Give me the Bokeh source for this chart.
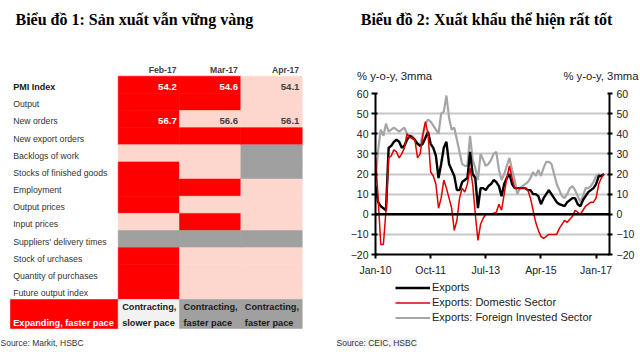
from bokeh.plotting import figure
from bokeh.models import (Range1d, FixedTicker, LinearAxis, Span, Label, Legend, LegendItem)
from bokeh.layouts import row, column
from bokeh.embed import file_html
from bokeh.resources import INLINE
from bokeh.core.properties import value

# ---------------- Chart 1 data: PMI heat table ----------------
title1 = "Biểu đồ 1: Sản xuất vẫn vững vàng"
source1 = "Source: Markit, HSBC"
pmi_rows = ["PMI Index", "Output", "New orders", "New export orders", "Backlogs of work",
            "Stocks of finished goods", "Employment", "Output prices", "Input prices",
            "Suppliers' delivery times", "Stock of urchases", "Quantity of purchases",
            "Future output index"]
pmi_months = ["Feb-17", "Mar-17", "Apr-17"]
# E = expanding faster (red), S = expanding slower (light), C = contracting faster (grey)
status_feb = ["E", "E", "E", "E", "S", "E", "E", "E", "S", "C", "E", "E", "E"]
status_mar = ["E", "E", "S", "E", "S", "S", "E", "S", "E", "C", "S", "S", "S"]
status_apr = ["S", "S", "S", "E", "C", "C", "S", "S", "S", "C", "S", "S", "S"]
pmi_index_values = [54.2, 54.6, 54.1]
new_orders_values = [56.7, 56.6, 56.1]
key_line1 = ["", "Contracting,", "Contracting,", "Contracting,"]
key_line2 = ["Expanding, faster pace", "slower pace", "faster pace", "faster pace"]
key_status = ["E", "W", "C", "C"]

# ---------------- Chart 2 data: exports, % y-o-y 3mma, monthly from Jan-10 ----------------
title2 = "Biểu đồ 2: Xuất khẩu thể hiện rất tốt"
source2 = "Source: CEIC, HSBC"
unit_label = "% y-o-y, 3mma"
x_tick_labels = ["Jan-10", "Oct-11", "Jul-13", "Apr-15", "Jan-17"]
y_ticks = [-20, -10, 0, 10, 20, 30, 40, 50, 60]
exports = [14, 6, 4, 3, 2, 33, 34, 36, 37, 36,
           33, 34, 37, 39, 38, 37, 35, 34, 35, 38,
           41, 35, 33, 29, 18, 25, 33, 36, 25, 22,
           19, 12, 12, 16, 17, 18, 31, 20, 18, 3,
           13, 13, 12, 14, 15, 17, 16, 14, 9, 15,
           18, 20, 15, 13, 13, 13, 13, 13, 12, 12,
           10, 10, 9, 5, 8, 10, 12, 10, 8, 6,
           5, 4.5, 4, 6, 7, 8, 8, 5, 4, 7,
           9, 11, 12, 13, 15, 19, 19, 20]
exports_domestic = [28, 8, -15, -15, 2, 28, 29, 32, 31, 28,
                    30, 33, 40, 38, 38, 37, 28, 30, 39, 46,
                    40, 21, 19, 15, 3, 8, 17, 13, 8, 3,
                    -8, -3, 8, 13, 11, 15, 23, 15, 0, -13,
                    -5, -2, 0, 0, 0, 0.5, 1, 5, 2, 10,
                    18, 24, 18, 13, 13, 13, 13, 13, 12, 8,
                    2, -4, -8, -11, -12, -11, -10, -10, -10, -10,
                    -7, -5, -3, -4, -2.5, -1, 2, 1, 0, 2,
                    4, 5, 6, 6, 8, 15, 18, 20]
exports_fie = [16, 32, 42, 39, 45, 41, 42, 43, 42, 41,
               42, 43, 40, 39, 39, 37, 35, 34, 40, 45,
               47, 46, 44, 42, 40, 50, 51, 59, 48, 42,
               43, 37, 31, 25, 24, 24, 39, 27, 23, 17,
               30, 27, 24, 25, 27, 30, 31, 22, 17, 20,
               24, 28, 22, 17, 10, 13, 14, 15, 16, 18,
               21, 19, 22, 19, 23, 26, 26, 25, 20, 15,
               12, 9, 8, 10, 13, 14, 12, 9, 6, 9,
               13, 13, 14, 16, 19, 20, 19, 20]
series_names = ["Exports", "Exports: Domestic Sector", "Exports: Foreign Invested Sector"]

# ---------------- styles ----------------
RED = "#ff0000"
PINK = "#fdd7cd"
GREY = "#a0a0a0"
WHITEISH = "#f2f2f2"
cell_colors = {"E": RED, "S": PINK, "C": GREY, "W": WHITEISH}
SANS = value("Liberation Sans")
SERIF = "Liberation Serif"
LABEL_X = -1.712     # left edge of row-label text (in column units)
KEY_LEFT = -1.756    # left edge of the red key cell
KEY_TOP, KEY_BOTTOM = 13.02, 14.71
line_styles = [dict(line_color="black", line_width=2.4),
               dict(line_color="#e00000", line_width=1.5),
               dict(line_color="#a6a6a6", line_width=2.2)]


def text_strip(w, h):
    f = figure(width=w, height=h, x_range=Range1d(0, 1), y_range=Range1d(0, 1),
               output_backend="svg", toolbar_location=None, min_border=0,
               x_axis_location=None, y_axis_location=None)
    f.outline_line_color = None
    f.grid.visible = False
    f.background_fill_color = "white"
    f.border_fill_color = "white"
    f.frame_align = False
    return f


# ================= Left figure: table =================
p1 = figure(width=313, height=360, x_range=Range1d(-1.919, 3.184), y_range=Range1d(16.577, -4.414),
            output_backend="svg", toolbar_location=None, min_border=0,
            x_axis_location=None, y_axis_location=None)
p1.outline_line_color = None
p1.grid.visible = False
p1.background_fill_color = "white"
p1.border_fill_color = "white"
p1.frame_align = False

statuses = [status_feb, status_mar, status_apr]
ql, qr, qt, qb, qc = [], [], [], [], []
for j, col in enumerate(statuses):
    for r, s in enumerate(col):
        ql.append(j); qr.append(j + 1); qt.append(r); qb.append(r + 1); qc.append(cell_colors[s])
p1.quad(left=ql, right=qr, top=qt, bottom=qb, fill_color=qc, line_color=qc, line_width=0.6)

# key row
kl = [KEY_LEFT, 0, 1, 2]
kr = [0, 1, 2, 3]
kc = [cell_colors[s] for s in key_status]
p1.quad(left=kl, right=kr, top=[KEY_TOP] * 4, bottom=[KEY_BOTTOM] * 4, fill_color=kc, line_color=kc, line_width=0.6)
ktx = [LABEL_X] + [j + 0.065 for j in range(3)]
ktc = ["white" if s == "E" else "#1a1a1a" for s in key_status]
p1.text(x=ktx, y=[KEY_TOP + 0.45] * 4, text=key_line1, text_color=ktc, text_font=SANS,
        text_font_style="bold", text_font_size="9.2px", text_baseline="middle", text_align="left")
p1.text(x=ktx, y=[KEY_TOP + 1.38] * 4, text=key_line2, text_color=ktc, text_font=SANS,
        text_font_style="bold", text_font_size="9.2px", text_baseline="middle", text_align="left")

# row labels
p1.text(x=[LABEL_X], y=[0.64], text=pmi_rows[:1], text_color="#1a1a1a", text_font=SANS,
        text_font_style="bold", text_font_size="9px", text_baseline="middle", text_align="left")
p1.text(x=[LABEL_X] * (len(pmi_rows) - 1), y=[r + 0.64 for r in range(1, len(pmi_rows))],
        text=pmi_rows[1:], text_color="#333333", text_font=SANS,
        text_font_size="8.7px", text_baseline="middle", text_align="left")

# column headers
p1.text(x=[j + 0.95 for j in range(3)], y=[-0.39] * 3, text=pmi_months, text_color="#404040",
        text_font=SANS, text_font_style="bold", text_font_size="8.6px",
        text_baseline="middle", text_align="right")

# values
for r, vals in [(0, pmi_index_values), (2, new_orders_values)]:
    cols = ["white" if statuses[j][r] == "E" else "#404040" for j in range(3)]
    p1.text(x=[j + 0.955 for j in range(3)], y=[r + 0.63] * 3, text=[f"{v:.1f}" for v in vals],
            text_color=cols, text_font=SANS, text_font_style="bold", text_font_size="9.6px",
            text_baseline="middle", text_align="right")

p1.add_layout(Label(x=15, y=341, x_units="screen", y_units="screen", text=title1,
                    text_font=SERIF, text_font_style="bold", text_font_size="16px",
                    text_color="black", text_baseline="middle", text_align="left"))
p1.add_layout(Label(x=0, y=18, x_units="screen", y_units="screen", text=source1,
                    text_font="Liberation Sans", text_font_size="8.5px",
                    text_color="#333333", text_baseline="middle", text_align="left"))

# ================= Right: title strip =================
s2 = text_strip(327, 85)
s2.add_layout(Label(x=173, y=66, x_units="screen", y_units="screen", text=title2,
                    text_font=SERIF, text_font_style="bold", text_font_size="16px",
                    text_color="black", text_baseline="middle", text_align="center"))
s2.add_layout(Label(x=43.5, y=10, x_units="screen", y_units="screen", text=unit_label,
                    text_font="Liberation Sans", text_font_size="11.3px",
                    text_color="#222222", text_baseline="middle", text_align="left"))
s2.add_layout(Label(x=325, y=10, x_units="screen", y_units="screen", text=unit_label,
                    text_font="Liberation Sans", text_font_size="11.3px",
                    text_color="#222222", text_baseline="middle", text_align="right"))

# ================= Right: line chart =================
mon = {"Jan": 0, "Feb": 1, "Mar": 2, "Apr": 3, "May": 4, "Jun": 5, "Jul": 6,
       "Aug": 7, "Sep": 8, "Oct": 9, "Nov": 10, "Dec": 11}
tick_pos = [mon[t[:3]] + (int(t[4:]) - 10) * 12 for t in x_tick_labels]
months = list(range(len(exports)))

p2 = figure(width=327, height=193, x_range=Range1d(0, 89.1), y_range=Range1d(-20, 60),
            output_backend="svg", toolbar_location=None,
            min_border_left=62, min_border_right=31, min_border_top=8, min_border_bottom=24)
p2.outline_line_color = None
p2.background_fill_color = "white"
p2.border_fill_color = "white"
p2.frame_align = False

p2.xaxis.ticker = FixedTicker(ticks=tick_pos)
p2.xaxis.major_label_overrides = {t: lab for t, lab in zip(tick_pos, x_tick_labels)}
p2.yaxis.ticker = FixedTicker(ticks=y_ticks)
p2.xgrid.visible = False
p2.ygrid.ticker = FixedTicker(ticks=y_ticks)
p2.ygrid.grid_line_color = "#c8c8c8"
p2.ygrid.grid_line_width = 2

ra = LinearAxis(ticker=FixedTicker(ticks=y_ticks))
p2.add_layout(ra, "right")

for ax in [p2.xaxis[0], p2.yaxis[0], ra]:
    ax.axis_line_color = "black"
    ax.axis_line_width = 2
    ax.major_tick_line_color = "black"
    ax.major_tick_line_width = 2
    ax.minor_tick_line_color = None
    ax.major_label_text_font = "Liberation Sans"
    ax.major_label_text_font_size = "10.5px"
    ax.major_label_text_color = "#222222"
p2.yaxis[0].major_tick_in = 2
p2.yaxis[0].major_tick_out = 4
p2.yaxis[0].major_label_standoff = 3
ra.major_tick_in = 2
ra.major_tick_out = 3
ra.major_label_standoff = 4
p2.xaxis[0].major_tick_in = 0
p2.xaxis[0].major_tick_out = 4
p2.xaxis[0].major_label_standoff = 5

p2.add_layout(Span(location=0, dimension="width", line_color="black", line_width=2.5))

p2.line(months, exports_fie, **line_styles[2])
p2.line(months, exports, **line_styles[0])
p2.line(months, exports_domestic, **line_styles[1])

# ================= Right: legend + source strip =================
s3 = text_strip(327, 82)
nan = float("nan")
key_renderers = [s3.line([nan, nan], [nan, nan], **st) for st in line_styles]
legend = Legend(items=[LegendItem(label=n, renderers=[rr]) for n, rr in zip(series_names, key_renderers)],
                location=(82, 35.5), border_line_color=None, background_fill_alpha=0,
                padding=0, margin=0, spacing=0, glyph_width=35, glyph_height=15,
                label_height=15, label_standoff=2, label_text_font="Liberation Sans",
                label_text_font_size="11px", label_text_color="#222222")
s3.add_layout(legend)
s3.add_layout(Label(x=23, y=18, x_units="screen", y_units="screen", text=source2,
                    text_font="Liberation Sans", text_font_size="8.5px",
                    text_color="#333333", text_baseline="middle", text_align="left",
                    background_fill_color="#f3f3f3"))

layout = row(p1, column(s2, p2, s3))
open("out.html", "w").write(file_html(layout, INLINE))
